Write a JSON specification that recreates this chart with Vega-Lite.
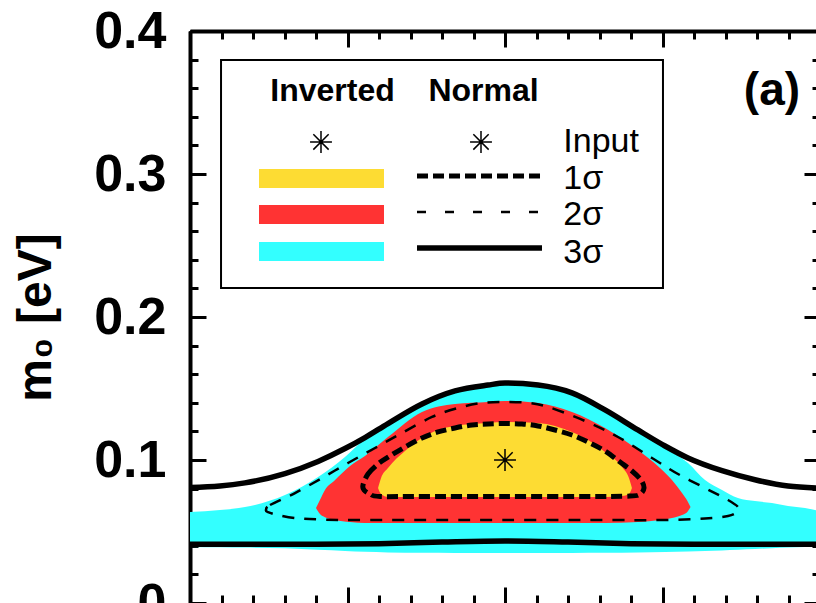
{
  "$schema": "https://vega.github.io/schema/vega-lite/v6.json",
  "width": 626,
  "height": 572,
  "autosize": {"type": "none"},
  "padding": {"left": 190, "top": 31, "right": 0, "bottom": 0},
  "background": "white",
  "config": {
    "view": {"stroke": null},
    "axis": {"grid": false, "domainColor": "black", "tickColor": "black", "labelColor": "black", "titleColor": "black", "zindex": 1, "labelFont": "Liberation Sans", "titleFont": "Liberation Sans"},
    "text": {"font": "Liberation Sans", "color": "black"}
  },
  "resolve": {"axis": {"x": "independent", "y": "independent"}},
  "datasets": {
    "inverted3": [
      {"x": 0, "lo": 0.0392, "hi": 0.0636},
      {"x": 0.19, "lo": 0.0390, "hi": 0.0650},
      {"x": 0.349, "lo": 0.0388, "hi": 0.0671},
      {"x": 0.603, "lo": 0.0382, "hi": 0.0755},
      {"x": 0.813, "lo": 0.0372, "hi": 0.0881},
      {"x": 0.984, "lo": 0.0364, "hi": 0.1021},
      {"x": 1.111, "lo": 0.0358, "hi": 0.1150},
      {"x": 1.257, "lo": 0.0354, "hi": 0.1266},
      {"x": 1.473, "lo": 0.0351, "hi": 0.1406},
      {"x": 1.683, "lo": 0.0350, "hi": 0.1497},
      {"x": 1.892, "lo": 0.0350, "hi": 0.1538},
      {"x": 2.0, "lo": 0.0350, "hi": 0.1552},
      {"x": 2.21, "lo": 0.0350, "hi": 0.1538},
      {"x": 2.425, "lo": 0.0350, "hi": 0.1483},
      {"x": 2.635, "lo": 0.0351, "hi": 0.1364},
      {"x": 2.844, "lo": 0.0353, "hi": 0.1224},
      {"x": 3.016, "lo": 0.0356, "hi": 0.1085},
      {"x": 3.162, "lo": 0.0360, "hi": 0.0979},
      {"x": 3.27, "lo": 0.0364, "hi": 0.0860},
      {"x": 3.378, "lo": 0.0368, "hi": 0.0790},
      {"x": 3.479, "lo": 0.0373, "hi": 0.0734},
      {"x": 3.587, "lo": 0.0378, "hi": 0.0713},
      {"x": 3.695, "lo": 0.0383, "hi": 0.0699},
      {"x": 3.797, "lo": 0.0388, "hi": 0.0678},
      {"x": 3.905, "lo": 0.0391, "hi": 0.0664},
      {"x": 4.0, "lo": 0.0392, "hi": 0.0643}
    ],
    "inverted2": [
      {"x": 0.800, "lo": 0.0664, "hi": 0.0664},
      {"x": 0.825, "lo": 0.0622, "hi": 0.0720},
      {"x": 0.857, "lo": 0.0600, "hi": 0.0790},
      {"x": 0.921, "lo": 0.0580, "hi": 0.0860},
      {"x": 1.016, "lo": 0.0566, "hi": 0.0958},
      {"x": 1.111, "lo": 0.0559, "hi": 0.1028},
      {"x": 1.257, "lo": 0.0559, "hi": 0.1160},
      {"x": 1.473, "lo": 0.0559, "hi": 0.1336},
      {"x": 1.683, "lo": 0.0559, "hi": 0.1392},
      {"x": 1.892, "lo": 0.0559, "hi": 0.1406},
      {"x": 2.0, "lo": 0.0559, "hi": 0.1413},
      {"x": 2.21, "lo": 0.0559, "hi": 0.1399},
      {"x": 2.425, "lo": 0.0559, "hi": 0.1336},
      {"x": 2.635, "lo": 0.0559, "hi": 0.1224},
      {"x": 2.844, "lo": 0.0566, "hi": 0.1070},
      {"x": 2.984, "lo": 0.0580, "hi": 0.0944},
      {"x": 3.06, "lo": 0.0594, "hi": 0.0860},
      {"x": 3.124, "lo": 0.0615, "hi": 0.0769},
      {"x": 3.160, "lo": 0.0640, "hi": 0.0710},
      {"x": 3.178, "lo": 0.0671, "hi": 0.0671}
    ],
    "inverted1": [
      {"x": 1.194, "lo": 0.0804, "hi": 0.0804},
      {"x": 1.213, "lo": 0.0762, "hi": 0.0874},
      {"x": 1.257, "lo": 0.0741, "hi": 0.0944},
      {"x": 1.365, "lo": 0.0741, "hi": 0.1063},
      {"x": 1.473, "lo": 0.0741, "hi": 0.1154},
      {"x": 1.575, "lo": 0.0741, "hi": 0.1210},
      {"x": 1.683, "lo": 0.0741, "hi": 0.1238},
      {"x": 1.892, "lo": 0.0741, "hi": 0.1259},
      {"x": 2.0, "lo": 0.0741, "hi": 0.1266},
      {"x": 2.21, "lo": 0.0741, "hi": 0.1259},
      {"x": 2.425, "lo": 0.0741, "hi": 0.1196},
      {"x": 2.527, "lo": 0.0741, "hi": 0.1140},
      {"x": 2.635, "lo": 0.0741, "hi": 0.1056},
      {"x": 2.743, "lo": 0.0748, "hi": 0.0951},
      {"x": 2.787, "lo": 0.0762, "hi": 0.0874},
      {"x": 2.806, "lo": 0.0804, "hi": 0.0804}
    ],
    "normal3": [
      {"piece": "upper", "x": 0, "y": 0.0808},
      {"piece": "upper", "x": 0.19, "y": 0.0818},
      {"piece": "upper", "x": 0.349, "y": 0.0840},
      {"piece": "upper", "x": 0.603, "y": 0.0905},
      {"piece": "upper", "x": 0.813, "y": 0.0990},
      {"piece": "upper", "x": 0.984, "y": 0.1080},
      {"piece": "upper", "x": 1.111, "y": 0.1157},
      {"piece": "upper", "x": 1.257, "y": 0.1255},
      {"piece": "upper", "x": 1.473, "y": 0.1392},
      {"piece": "upper", "x": 1.683, "y": 0.1483},
      {"piece": "upper", "x": 1.892, "y": 0.1524},
      {"piece": "upper", "x": 2.0, "y": 0.1538},
      {"piece": "upper", "x": 2.21, "y": 0.1524},
      {"piece": "upper", "x": 2.425, "y": 0.1469},
      {"piece": "upper", "x": 2.635, "y": 0.1350},
      {"piece": "upper", "x": 2.844, "y": 0.1210},
      {"piece": "upper", "x": 3.016, "y": 0.1098},
      {"piece": "upper", "x": 3.162, "y": 0.1014},
      {"piece": "upper", "x": 3.378, "y": 0.0925},
      {"piece": "upper", "x": 3.587, "y": 0.0862},
      {"piece": "upper", "x": 3.797, "y": 0.0818},
      {"piece": "upper", "x": 4.0, "y": 0.0804},
      {"piece": "lower", "x": 0, "y": 0.0410},
      {"piece": "lower", "x": 0.8, "y": 0.0410},
      {"piece": "lower", "x": 1.2, "y": 0.0414},
      {"piece": "lower", "x": 1.6, "y": 0.0426},
      {"piece": "lower", "x": 2.0, "y": 0.0434},
      {"piece": "lower", "x": 2.4, "y": 0.0426},
      {"piece": "lower", "x": 2.8, "y": 0.0414},
      {"piece": "lower", "x": 3.2, "y": 0.0410},
      {"piece": "lower", "x": 4.0, "y": 0.0410},
      {"piece": "key", "x": 1.4413, "y": 0.2483},
      {"piece": "key", "x": 2.2349, "y": 0.2483}
    ],
    "normal2": [
      {"i": 0, "x": 0.4825, "y": 0.0650},
      {"i": 1, "x": 0.5079, "y": 0.0685},
      {"i": 2, "x": 0.6667, "y": 0.0769},
      {"i": 3, "x": 0.8381, "y": 0.0874},
      {"i": 4, "x": 1.0032, "y": 0.0979},
      {"i": 5, "x": 1.1746, "y": 0.1084},
      {"i": 6, "x": 1.3460, "y": 0.1189},
      {"i": 7, "x": 1.5365, "y": 0.1301},
      {"i": 8, "x": 1.7016, "y": 0.1364},
      {"i": 9, "x": 1.8540, "y": 0.1399},
      {"i": 10, "x": 2.0, "y": 0.1406},
      {"i": 11, "x": 2.1460, "y": 0.1399},
      {"i": 12, "x": 2.2730, "y": 0.1371},
      {"i": 13, "x": 2.5079, "y": 0.1273},
      {"i": 14, "x": 2.7175, "y": 0.1161},
      {"i": 15, "x": 2.9333, "y": 0.1014},
      {"i": 16, "x": 3.0984, "y": 0.0902},
      {"i": 17, "x": 3.2825, "y": 0.0797},
      {"i": 18, "x": 3.4159, "y": 0.0720},
      {"i": 19, "x": 3.4794, "y": 0.0671},
      {"i": 20, "x": 3.4730, "y": 0.0636},
      {"i": 21, "x": 3.4159, "y": 0.0608},
      {"i": 22, "x": 3.2698, "y": 0.0591},
      {"i": 23, "x": 2.9841, "y": 0.0580},
      {"i": 24, "x": 2.6032, "y": 0.0580},
      {"i": 25, "x": 2.0, "y": 0.0580},
      {"i": 26, "x": 1.4603, "y": 0.0580},
      {"i": 27, "x": 1.0476, "y": 0.0580},
      {"i": 28, "x": 0.8254, "y": 0.0584},
      {"i": 29, "x": 0.6667, "y": 0.0594},
      {"i": 30, "x": 0.5587, "y": 0.0615},
      {"i": 31, "x": 0.4952, "y": 0.0636}
    ],
    "normal1": [
      {"i": 0, "x": 1.0984, "y": 0.0825},
      {"i": 1, "x": 1.1302, "y": 0.0902},
      {"i": 2, "x": 1.1937, "y": 0.0972},
      {"i": 3, "x": 1.2698, "y": 0.1028},
      {"i": 4, "x": 1.3651, "y": 0.1091},
      {"i": 5, "x": 1.4730, "y": 0.1154},
      {"i": 6, "x": 1.5746, "y": 0.1196},
      {"i": 7, "x": 1.6825, "y": 0.1224},
      {"i": 8, "x": 1.7905, "y": 0.1245},
      {"i": 9, "x": 1.8921, "y": 0.1252},
      {"i": 10, "x": 2.0, "y": 0.1255},
      {"i": 11, "x": 2.1079, "y": 0.1252},
      {"i": 12, "x": 2.2095, "y": 0.1238},
      {"i": 13, "x": 2.3175, "y": 0.1210},
      {"i": 14, "x": 2.4254, "y": 0.1175},
      {"i": 15, "x": 2.5270, "y": 0.1126},
      {"i": 16, "x": 2.6349, "y": 0.1063},
      {"i": 17, "x": 2.7302, "y": 0.0986},
      {"i": 18, "x": 2.8063, "y": 0.0923},
      {"i": 19, "x": 2.8635, "y": 0.0860},
      {"i": 20, "x": 2.8825, "y": 0.0804},
      {"i": 21, "x": 2.8571, "y": 0.0762},
      {"i": 22, "x": 2.7937, "y": 0.0748},
      {"i": 23, "x": 2.5, "y": 0.0745},
      {"i": 24, "x": 2.0, "y": 0.0745},
      {"i": 25, "x": 1.5, "y": 0.0745},
      {"i": 26, "x": 1.2063, "y": 0.0745},
      {"i": 27, "x": 1.1429, "y": 0.0762},
      {"i": 28, "x": 1.1048, "y": 0.0790}
    ],
    "input": [
      {"where": "best fit", "x": 2.0, "y": 0.1},
      {"where": "key inverted", "x": 0.8317, "y": 0.3224},
      {"where": "key normal", "x": 1.8476, "y": 0.3224}
    ],
    "keybox": [
      {"x": 0.197, "x2": 3.003, "y": 0.2203, "y2": 0.3797}
    ],
    "swatches": [
      {"level": "1σ", "x": 0.4381, "x2": 1.2317, "y": 0.2902, "y2": 0.3035},
      {"level": "2σ", "x": 0.4381, "x2": 1.2317, "y": 0.2650, "y2": 0.2783},
      {"level": "3σ", "x": 0.4381, "x2": 1.2317, "y": 0.2392, "y2": 0.2524}
    ],
    "key1": [
      {"x": 1.4413, "y": 0.2986},
      {"x": 2.2349, "y": 0.2986}
    ],
    "key2": [
      {"x": 1.4413, "y": 0.2734},
      {"x": 2.2349, "y": 0.2734}
    ],
    "headers": [
      {"label": "Inverted", "x": 0.9048, "y": 0.3580},
      {"label": "Normal", "x": 1.8635, "y": 0.3580}
    ],
    "keylabels": [
      {"label": "Input", "x": 2.37, "y": 0.3227},
      {"label": "1σ", "x": 2.37, "y": 0.2965},
      {"label": "2σ", "x": 2.37, "y": 0.2710},
      {"label": "3σ", "x": 2.37, "y": 0.2451}
    ],
    "panel": [
      {"label": "(a)", "x": 3.695, "y": 0.358}
    ]
  },
  "layer": [
    {
      "data": {"name": "inverted3"},
      "mark": {"type": "area", "interpolate": "monotone", "color": "#33FFFF"},
      "encoding": {
        "x": {"field": "x", "type": "quantitative",
              "scale": {"domain": [0, 3.9746], "nice": false, "zero": false},
              "axis": {"orient": "bottom", "values": [0, 1, 2, 3], "tickSize": -16, "tickWidth": 3, "labels": false, "domain": false, "title": null}},
        "y": {"field": "hi", "type": "quantitative",
              "scale": {"domain": [0, 0.4], "nice": false},
              "axis": {"orient": "left", "values": [0, 0.1, 0.2, 0.3, 0.4], "tickSize": -16, "tickWidth": 3,
                       "domain": true, "domainWidth": 4,
                       "labelFontSize": 52, "labelFontWeight": "bold", "labelPadding": 40, "labelOverlap": false,
                       "labelExpr": "datum.value == 0 ? '0' : format(datum.value, '.1f')",
                       "title": "m₀ [eV]", "titleFontSize": 48, "titleFontWeight": "bold", "titlePadding": 33}},
        "y2": {"field": "lo"}
      }
    },
    {
      "data": {"name": "inverted2"},
      "mark": {"type": "area", "interpolate": "monotone", "color": "#FF3333"},
      "encoding": {
        "x": {"field": "x", "type": "quantitative",
              "axis": {"orient": "bottom", "values": [0, 0.2, 0.4, 0.6, 0.8, 1, 1.2, 1.4, 1.6, 1.8, 2, 2.2, 2.4, 2.6, 2.8, 3, 3.2, 3.4, 3.6, 3.8], "tickSize": -8, "tickWidth": 3, "labels": false, "domain": false, "title": null}},
        "y": {"field": "hi", "type": "quantitative",
              "axis": {"orient": "left", "values": [0, 0.02, 0.04, 0.06, 0.08, 0.1, 0.12, 0.14, 0.16, 0.18, 0.2, 0.22, 0.24, 0.26, 0.28, 0.3, 0.32, 0.34, 0.36, 0.38, 0.4], "tickSize": -8, "tickWidth": 3, "labels": false, "domain": false, "title": null}},
        "y2": {"field": "lo"}
      }
    },
    {
      "data": {"name": "inverted1"},
      "mark": {"type": "area", "interpolate": "monotone", "color": "#FDDC33"},
      "encoding": {
        "x": {"field": "x", "type": "quantitative",
              "axis": {"orient": "top", "values": [0, 1, 2, 3], "tickSize": -16, "tickWidth": 3, "labels": false, "domain": true, "domainWidth": 4, "title": null}},
        "y": {"field": "hi", "type": "quantitative",
              "axis": {"orient": "right", "offset": 4, "values": [0, 0.1, 0.2, 0.3, 0.4], "tickSize": -16, "tickWidth": 3, "labels": false, "domain": false, "title": null}},
        "y2": {"field": "lo"}
      }
    },
    {
      "data": {"name": "normal3"},
      "mark": {"type": "line", "interpolate": "monotone", "color": "black", "strokeWidth": 5.5},
      "encoding": {
        "x": {"field": "x", "type": "quantitative",
              "axis": {"orient": "top", "values": [0, 0.2, 0.4, 0.6, 0.8, 1, 1.2, 1.4, 1.6, 1.8, 2, 2.2, 2.4, 2.6, 2.8, 3, 3.2, 3.4, 3.6, 3.8], "tickSize": -8, "tickWidth": 3, "labels": false, "domain": false, "title": null}},
        "y": {"field": "y", "type": "quantitative",
              "axis": {"orient": "right", "offset": 4, "values": [0, 0.02, 0.04, 0.06, 0.08, 0.1, 0.12, 0.14, 0.16, 0.18, 0.2, 0.22, 0.24, 0.26, 0.28, 0.3, 0.32, 0.34, 0.36, 0.38, 0.4], "tickSize": -8, "tickWidth": 3, "labels": false, "domain": false, "title": null}},
        "detail": {"field": "piece"}
      }
    },
    {
      "data": {"name": "normal2"},
      "mark": {"type": "line", "interpolate": "cardinal-closed", "color": "black", "strokeWidth": 2.5, "strokeDash": [12, 10]},
      "encoding": {
        "x": {"field": "x", "type": "quantitative", "axis": null},
        "y": {"field": "y", "type": "quantitative", "axis": null},
        "order": {"field": "i"}
      }
    },
    {
      "data": {"name": "normal1"},
      "mark": {"type": "line", "interpolate": "cardinal-closed", "color": "black", "strokeWidth": 5, "strokeDash": [11, 5]},
      "encoding": {
        "x": {"field": "x", "type": "quantitative", "axis": null},
        "y": {"field": "y", "type": "quantitative", "axis": null},
        "order": {"field": "i"}
      }
    },
    {
      "data": {"name": "input"},
      "mark": {"type": "point", "shape": "M-1,0L1,0M0,-1L0,1M-0.7,-0.7L0.7,0.7M-0.7,0.7L0.7,-0.7", "size": 480, "filled": false, "stroke": "black", "strokeWidth": 1.5, "opacity": 1},
      "encoding": {
        "x": {"field": "x", "type": "quantitative", "axis": null},
        "y": {"field": "y", "type": "quantitative", "axis": null}
      }
    },
    {
      "data": {"name": "keybox"},
      "mark": {"type": "rect", "filled": false, "stroke": "black", "strokeWidth": 2},
      "encoding": {
        "x": {"field": "x", "type": "quantitative", "axis": null},
        "x2": {"field": "x2"},
        "y": {"field": "y", "type": "quantitative", "axis": null},
        "y2": {"field": "y2"}
      }
    },
    {
      "data": {"name": "swatches"},
      "mark": {"type": "rect"},
      "encoding": {
        "x": {"field": "x", "type": "quantitative", "axis": null},
        "x2": {"field": "x2"},
        "y": {"field": "y", "type": "quantitative", "axis": null},
        "y2": {"field": "y2"},
        "fill": {"field": "level", "type": "nominal", "legend": null,
                 "scale": {"domain": ["1σ", "2σ", "3σ"], "range": ["#FDDC33", "#FF3333", "#33FFFF"]}}
      }
    },
    {
      "data": {"name": "key1"},
      "mark": {"type": "line", "color": "black", "strokeWidth": 5, "strokeDash": [11, 5]},
      "encoding": {
        "x": {"field": "x", "type": "quantitative", "axis": null},
        "y": {"field": "y", "type": "quantitative", "axis": null}
      }
    },
    {
      "data": {"name": "key2"},
      "mark": {"type": "line", "color": "black", "strokeWidth": 2.5, "strokeDash": [9, 19]},
      "encoding": {
        "x": {"field": "x", "type": "quantitative", "axis": null},
        "y": {"field": "y", "type": "quantitative", "axis": null}
      }
    },
    {
      "data": {"name": "headers"},
      "mark": {"type": "text", "fontSize": 32, "fontWeight": "bold", "align": "center", "baseline": "middle"},
      "encoding": {
        "x": {"field": "x", "type": "quantitative", "axis": null},
        "y": {"field": "y", "type": "quantitative", "axis": null},
        "text": {"field": "label"}
      }
    },
    {
      "data": {"name": "keylabels"},
      "mark": {"type": "text", "fontSize": 34, "align": "left", "baseline": "middle"},
      "encoding": {
        "x": {"field": "x", "type": "quantitative", "axis": null},
        "y": {"field": "y", "type": "quantitative", "axis": null},
        "text": {"field": "label"}
      }
    },
    {
      "data": {"name": "panel"},
      "mark": {"type": "text", "fontSize": 46, "fontWeight": "bold", "align": "center", "baseline": "middle"},
      "encoding": {
        "x": {"field": "x", "type": "quantitative", "axis": null},
        "y": {"field": "y", "type": "quantitative", "axis": null},
        "text": {"field": "label"}
      }
    }
  ]
}
